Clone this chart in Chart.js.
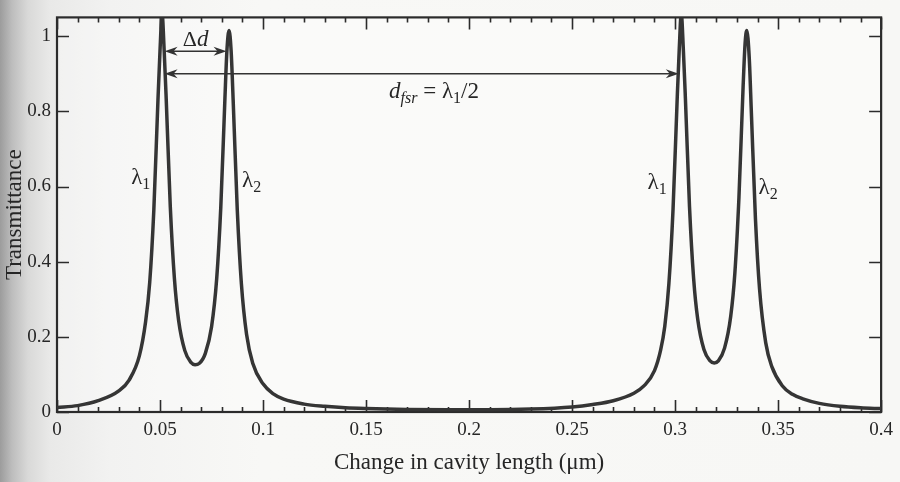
<!DOCTYPE html>
<html>
<head>
<meta charset="utf-8">
<script src="https://cdn.jsdelivr.net/npm/chart.js@4.4.1/dist/chart.umd.min.js"></script>
<style>
  html, body { margin: 0; padding: 0; }
  body {
    width: 900px; height: 482px; overflow: hidden;
    background: linear-gradient(to right, #9c9c9c 0px, #bdbdbd 12px, #d9d9d8 28px, #e9e9e8 50px, #f2f2f1 110px, #f8f8f6 260px, #f7f7f5 900px);
  }
  #wrap { position: absolute; left: 0; top: 0; width: 900px; height: 482px; }
</style>
</head>
<body>
<div id="wrap"><canvas id="c" width="900" height="482"></canvas></div>
<script>
// ---- data ----
const cavityChange = [0, 0.01, 0.02, 0.03, 0.035, 0.04, 0.043, 0.045, 0.047, 0.049,
  0.05, 0.051, 0.052, 0.053, 0.055, 0.057, 0.059, 0.062, 0.065, 0.067,
  0.069, 0.072, 0.075, 0.0775, 0.0795, 0.0815, 0.0825, 0.0835, 0.0845, 0.0855,
  0.0875, 0.0895, 0.092, 0.095, 0.1, 0.105, 0.11, 0.12, 0.13, 0.14,
  0.15, 0.17, 0.19, 0.21, 0.23, 0.25, 0.26, 0.27, 0.28, 0.285,
  0.29, 0.293, 0.295, 0.297, 0.299, 0.301, 0.302, 0.303, 0.304, 0.305,
  0.307, 0.309, 0.311, 0.314, 0.317, 0.319, 0.321, 0.324, 0.327, 0.329,
  0.331, 0.333, 0.334, 0.3348, 0.336, 0.337, 0.339, 0.341, 0.344, 0.347,
  0.352, 0.357, 0.362, 0.37, 0.38, 0.39, 0.4];
const transmittance = [0.012, 0.017, 0.03, 0.056, 0.085, 0.15, 0.24, 0.345, 0.538, 0.83,
  0.962, 1.06, 0.964, 0.834, 0.545, 0.354, 0.245, 0.164, 0.132, 0.126,
  0.129, 0.156, 0.226, 0.354, 0.545, 0.834, 0.964, 1.015, 0.962, 0.83,
  0.538, 0.341, 0.207, 0.13, 0.075, 0.048, 0.034, 0.021, 0.015, 0.011,
  0.009, 0.0068, 0.006, 0.006, 0.0078, 0.0135, 0.02, 0.03, 0.05, 0.07,
  0.11, 0.165, 0.228, 0.342, 0.539, 0.831, 0.963, 1.06, 0.965, 0.835,
  0.546, 0.355, 0.246, 0.166, 0.136, 0.1305, 0.136, 0.17, 0.255, 0.369,
  0.572, 0.864, 0.983, 1.015, 0.941, 0.80, 0.514, 0.327, 0.184, 0.12,
  0.07, 0.047, 0.035, 0.023, 0.015, 0.011, 0.009];
const xTickValues = [0, 0.05, 0.1, 0.15, 0.2, 0.25, 0.3, 0.35, 0.4];
const xTickLabels = ['0', '0.05', '0.1', '0.15', '0.2', '0.25', '0.3', '0.35', '0.4'];
const xMinorTickValues = [0.01, 0.02, 0.03, 0.04, 0.06, 0.07, 0.08, 0.09, 0.11, 0.12, 0.13, 0.14,
  0.16, 0.17, 0.18, 0.19, 0.21, 0.22, 0.23, 0.24, 0.26, 0.27, 0.28, 0.29, 0.31, 0.32, 0.33, 0.34,
  0.36, 0.37, 0.38, 0.39];
const yTickValues = [0, 0.2, 0.4, 0.6, 0.8, 1];
const yTickLabels = ['0', '0.2', '0.4', '0.6', '0.8', '1'];
// peak positions (lambda1, lambda2) of the two orders
const peaksLambda1 = [0.051, 0.303];
const peaksLambda2 = [0.0835, 0.3348];

// ---- annotation layout (data coordinates) ----
const SERIF = '"Liberation Serif", "DejaVu Serif", serif';
const INK = '#2b2b2b';
const annot = {
  deltaArrowY: 0.96,
  fsrArrowY: 0.9,
  deltaText: { x: (peaksLambda1[0] + peaksLambda2[0]) / 2, y: 0.995 },
  fsrText: { x: 0.183, y: 0.855 },
  lambdaLabels: [
    { x: 0.036, y: 0.625, sub: '1' },
    { x: 0.0898, y: 0.618, sub: '2' },
    { x: 0.2866, y: 0.612, sub: '1' },
    { x: 0.3405, y: 0.600, sub: '2' }
  ]
};

function drawRich(ctx, parts, x, y, align) {
  let total = 0;
  parts.forEach(p => { ctx.font = p.font; p.w = ctx.measureText(p.text).width; total += p.w; });
  let cx = align === 'center' ? x - total / 2 : x;
  ctx.textBaseline = 'alphabetic';
  ctx.textAlign = 'left';
  parts.forEach(p => {
    ctx.font = p.font;
    ctx.fillText(p.text, cx, y + (p.dy || 0));
    cx += p.w;
  });
}

function arrowHead(ctx, tipX, tipY, dir) {
  const L = 13, H = 4.5;
  ctx.beginPath();
  ctx.moveTo(tipX, tipY);
  ctx.lineTo(tipX - dir * L, tipY - H);
  ctx.lineTo(tipX - dir * (L - 4), tipY);
  ctx.lineTo(tipX - dir * L, tipY + H);
  ctx.closePath();
  ctx.fill();
}

const framePlugin = {
  id: 'frame',
  beforeDatasetsDraw(chart) {
    const { ctx, chartArea: a, scales: { x, y } } = chart;
    ctx.save();
    ctx.fillStyle = 'rgba(255,255,255,0.35)';
    ctx.fillRect(a.left, a.top, a.right - a.left, a.bottom - a.top);
    ctx.strokeStyle = INK;
    ctx.lineWidth = 1.6;
    // inward ticks
    ctx.beginPath();
    xTickValues.forEach(v => {
      const px = Math.round(x.getPixelForValue(v)) + 0.5;
      ctx.moveTo(px, a.bottom); ctx.lineTo(px, a.bottom - 12);
      ctx.moveTo(px, a.top); ctx.lineTo(px, a.top + 12);
    });
    xMinorTickValues.forEach(v => {
      const px = Math.round(x.getPixelForValue(v)) + 0.5;
      ctx.moveTo(px, a.bottom); ctx.lineTo(px, a.bottom - 5);
      ctx.moveTo(px, a.top); ctx.lineTo(px, a.top + 5);
    });
    yTickValues.forEach(v => {
      const py = Math.round(y.getPixelForValue(v)) + 0.5;
      ctx.moveTo(a.left, py); ctx.lineTo(a.left + 12, py);
      ctx.moveTo(a.right, py); ctx.lineTo(a.right - 12, py);
    });
    ctx.stroke();
    ctx.lineWidth = 2.2;
    ctx.strokeRect(a.left, a.top, a.right - a.left, a.bottom - a.top);
    ctx.restore();
  },
  afterDatasetsDraw(chart) {
    const { ctx, scales: { x, y } } = chart;
    ctx.save();
    ctx.strokeStyle = '#333';
    ctx.fillStyle = '#333';
    ctx.lineWidth = 1.5;
    // delta-d double arrow
    const dy = y.getPixelForValue(annot.deltaArrowY);
    const d1 = x.getPixelForValue(peaksLambda1[0]) + 2.5;
    const d2 = x.getPixelForValue(peaksLambda2[0]) - 2.5;
    ctx.beginPath(); ctx.moveTo(d1 + 6, dy); ctx.lineTo(d2 - 6, dy); ctx.stroke();
    arrowHead(ctx, d1, dy, -1);
    arrowHead(ctx, d2, dy, 1);
    // free spectral range double arrow
    const fy = y.getPixelForValue(annot.fsrArrowY);
    const f1 = x.getPixelForValue(peaksLambda1[0]) + 2.5;
    const f2 = x.getPixelForValue(peaksLambda1[1]) - 2.5;
    ctx.beginPath(); ctx.moveTo(f1 + 6, fy); ctx.lineTo(f2 - 6, fy); ctx.stroke();
    arrowHead(ctx, f1, fy, -1);
    arrowHead(ctx, f2, fy, 1);

    ctx.fillStyle = '#262626';
    // Δd label
    drawRich(ctx, [
      { text: 'Δ', font: '22px ' + SERIF },
      { text: 'd', font: 'italic 23px ' + SERIF }
    ], x.getPixelForValue(annot.deltaText.x), y.getPixelForValue(annot.deltaText.y) + 8, 'center');
    // d_fsr = λ1/2
    drawRich(ctx, [
      { text: 'd', font: 'italic 23px ' + SERIF },
      { text: 'fsr', font: 'italic 16px ' + SERIF, dy: 5 },
      { text: ' = λ', font: '23px ' + SERIF },
      { text: '1', font: '16px ' + SERIF, dy: 5 },
      { text: '/2', font: '23px ' + SERIF }
    ], x.getPixelForValue(annot.fsrText.x), y.getPixelForValue(annot.fsrText.y) + 7, 'center');
    // λ labels
    annot.lambdaLabels.forEach(l => {
      drawRich(ctx, [
        { text: 'λ', font: '23px ' + SERIF },
        { text: l.sub, font: '16px ' + SERIF, dy: 5 }
      ], x.getPixelForValue(l.x), y.getPixelForValue(l.y) + 7, 'left');
    });
    ctx.restore();
  }
};

new Chart(document.getElementById('c'), {
  type: 'line',
  data: {
    datasets: [{
      data: cavityChange.map((v, i) => ({ x: v, y: transmittance[i] })),
      borderColor: '#353535',
      borderWidth: 3.5,
      pointRadius: 0,
      fill: false,
      cubicInterpolationMode: 'monotone'
    }]
  },
  options: {
    responsive: false,
    devicePixelRatio: 1,
    animation: false,
    layout: { padding: { left: 0, top: 11, right: 12, bottom: 0 } },
    plugins: { legend: { display: false }, tooltip: { enabled: false } },
    scales: {
      x: {
        type: 'linear', min: 0, max: 0.4,
        afterBuildTicks: s => { s.ticks = xTickValues.map(v => ({ value: v })); },
        afterFit: s => { s.height = 70; },
        grid: { display: false, drawTicks: false },
        border: { display: false },
        ticks: {
          autoSkip: false, maxRotation: 0, padding: 7,
          color: '#262626', font: { family: SERIF, size: 19 },
          callback: (v, i) => xTickLabels[i]
        },
        title: {
          display: true, text: 'Change in cavity length (μm)',
          color: '#262626', font: { family: SERIF, size: 23 },
          padding: { top: 0, bottom: 5 }
        }
      },
      y: {
        type: 'linear', min: 0, max: 1.05,
        afterBuildTicks: s => { s.ticks = yTickValues.map(v => ({ value: v })); },
        afterFit: s => { s.width = 57; },
        grid: { display: false, drawTicks: false },
        border: { display: false },
        ticks: {
          autoSkip: false, padding: 6,
          color: '#262626', font: { family: SERIF, size: 19 },
          callback: (v, i) => yTickLabels[i]
        },
        title: {
          display: true, text: 'Transmittance',
          color: '#262626', font: { family: SERIF, size: 23 },
          padding: { top: 1, bottom: 0 }
        }
      }
    }
  },
  plugins: [framePlugin]
});
</script>
</body>
</html>
